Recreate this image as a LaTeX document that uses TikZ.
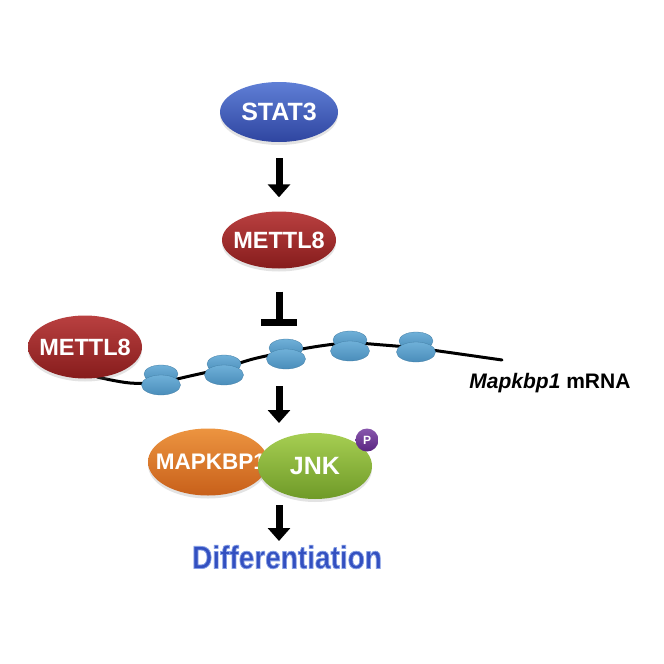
\documentclass[tikz,border=0pt]{standalone}
\usepackage{fontspec}
\usepackage{graphicx}
\setmainfont{Liberation Sans}
\usetikzlibrary{shapes.geometric,arrows.meta,shadows}
\definecolor{statTop}{HTML}{5F7FD6}
\definecolor{statBot}{HTML}{2F45A0}
\definecolor{metTop}{HTML}{B94040}
\definecolor{metBot}{HTML}{861C1C}
\definecolor{orTop}{HTML}{EC9440}
\definecolor{orBot}{HTML}{C8601A}
\definecolor{grTop}{HTML}{A6CE52}
\definecolor{grBot}{HTML}{6F9A28}
\definecolor{ribTop}{HTML}{6FB0D8}
\definecolor{ribBot}{HTML}{4A8DBA}
\definecolor{pPurple}{HTML}{6A2C98}
\definecolor{diffBlue}{HTML}{3350C0}
\newcommand{\zw}[1]{\makebox[0pt]{#1}}
\tikzset{
  prot/.style={ellipse, inner sep=0pt, text=white, font=\bfseries,
    drop shadow={opacity=0.22, shadow xshift=0pt, shadow yshift=-3pt}},
  blockarrow/.style={line width=7pt, -{Triangle[width=22pt,length=13pt]}},
  inhib/.style={line width=7pt, -{Bar[width=36pt]}},
  lobe/.style={ellipse, inner sep=0pt, top color=ribTop, bottom color=ribBot, draw=ribBot!90!black, line width=0.3pt},
  difftext/.style={font=\bfseries\fontsize{28}{28}\selectfont},
}
\begin{document}
\begin{tikzpicture}[x=1pt,y=-1pt]
\useasboundingbox[fill=white] (0,0) rectangle (664,664);
% mRNA line
\draw[line width=3pt, line cap=round] plot[smooth, tension=0.6] coordinates {(97,377) (130,383) (161,382) (190,376) (224,368) (253,359) (286,352) (320,346) (350,343) (383,345) (416,348) (453,353) (502,360)};
% METTL8 left
\node[prot, minimum width=114pt, minimum height=63pt, top color=metTop, bottom color=metBot, font=\bfseries\fontsize{23.5}{23.5}\selectfont] (mettlL) at (85,347) {\zw{METTL8}};
% ribosomes
\foreach \n/\x/\y in {1/161/380, 2/224/370, 3/286/354, 4/350/346, 5/416/347}{
  \node[lobe, minimum width=34pt, minimum height=18pt] (rt\n) at (\x,\y-6) {};
  \node[lobe, minimum width=39pt, minimum height=20pt] (rb\n) at (\x,\y+5) {};
}
\node[font=\bfseries\fontsize{21}{21}\selectfont, anchor=east] (mrna) at (634,383) {\textit{Mapkbp1} mRNA};
% STAT3 and METTL8
\node[prot, minimum width=118pt, minimum height=60pt, top color=statTop, bottom color=statBot, font=\bfseries\fontsize{25}{25}\selectfont] (stat3) at (279,112) {\zw{STAT3}};
\node[prot, minimum width=114pt, minimum height=57pt, top color=metTop, bottom color=metBot, font=\bfseries\fontsize{23.5}{23.5}\selectfont] (mettl8) at (279,240) {\zw{METTL8}};
\draw[blockarrow, shorten <=16pt, shorten >=14pt] (stat3.south) -- (mettl8.north);
\coordinate (inhibEnd) at (279,326);
\draw[inhib, shorten <=23pt] (mettl8.south) -- (inhibEnd);
% complex
\node[prot, minimum width=120pt, minimum height=67pt, top color=orTop, bottom color=orBot, font=\bfseries\fontsize{22.5}{22.5}\selectfont] (mapk) at (208,462) {\zw{\hspace*{6pt}MAPKBP1}};
\node[prot, minimum width=114pt, minimum height=66pt, top color=grTop, bottom color=grBot, font=\bfseries\fontsize{25}{25}\selectfont] (jnk) at (315,466) {\zw{JNK}};
\node[circle, minimum size=23pt, inner sep=0pt, top color=pPurple!80!white, bottom color=pPurple!85!black, text=white, font=\bfseries\fontsize{12}{12}\selectfont] (p) at (367,440) {P};
\coordinate (mrnaOut) at (279,386);
\coordinate (complexIn) at (279,423);
\draw[blockarrow] (mrnaOut) -- (complexIn);
% Differentiation with light outline (text render mode fill+stroke)
\node[difftext, text=diffBlue] (diff) at (287,557) {\scalebox{1}[1.15]{\special{pdf:literal direct 2 Tr 0.7 w 0.52 0.62 0.90 RG}Differentiation\special{pdf:literal direct 0 Tr}}};
\coordinate (complexOut) at (279,505);
\coordinate (diffIn) at (279,541);
\draw[blockarrow] (complexOut) -- (diffIn);
\end{tikzpicture}
\end{document}
